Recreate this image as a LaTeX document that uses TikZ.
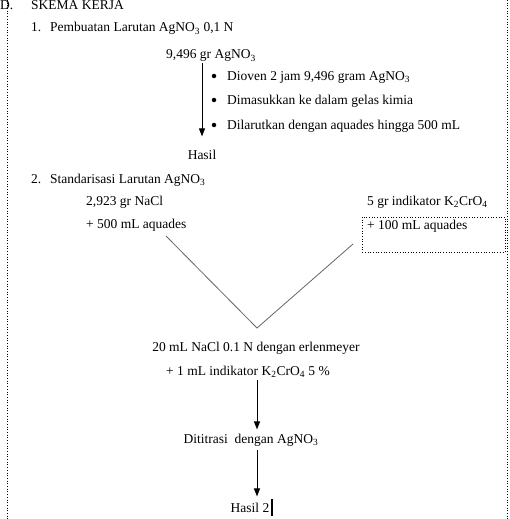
\documentclass[tikz,border=0pt]{standalone}
\usepackage{fontspec}
\setmainfont{Liberation Serif}
\usetikzlibrary{arrows.meta, positioning}

\begin{document}
\begin{tikzpicture}[
    x=1pt, y=-1pt,
    >={Triangle[width=6pt,length=8pt]},
    txt/.style={anchor=base west, inner sep=0pt,
                font=\fontsize{13.5}{16}\selectfont},
    dot/.style={circle, fill, inner sep=0pt, minimum size=4.5pt},
    flow/.style={->, line width=0.9pt},
    vline/.style={draw=black!60, line width=0.8pt},
    frame/.style={dotted, line width=0.7pt}
  ]
  \useasboundingbox (0,0) rectangle (510,519);
  \draw[frame] (7,0) -- (7,519);
  \draw[frame] (507,0) -- (507,519);

  % heading
  \node[txt] (hd) at (0,10) {D.};
  \node[txt] (hdtext) at (31,10) {SKEMA KERJA};

  % part 1
  \node[txt] (n1) at (31,32) {1.};
  \node[txt] (t1) at (50,32) {Pembuatan Larutan AgNO\textsubscript{3} 0,1 N};
  \node[txt] (agno) at (166,59) {9,496 gr AgNO\textsubscript{3}};
  \node[dot] (d1) at (214,76) {};
  \node[txt] (b1) at (227,80) {Dioven 2 jam 9,496 gram AgNO\textsubscript{3}};
  \node[dot] (d2) at (214,100) {};
  \node[txt] (b2) at (227,104) {Dimasukkan ke dalam gelas kimia};
  \node[dot] (d3) at (214,125) {};
  \node[txt] (b3) at (227,129) {Dilarutkan dengan aquades hingga 500 mL};
  \node[txt, anchor=base] (hasil1) at (202,159) {Hasil};
  \draw[flow, shorten <=1pt, shorten >=13pt] (agno.south -| hasil1.north) -- (hasil1.north);

  % part 2
  \node[txt] (n2) at (31,183) {2.};
  \node[txt] (t2) at (50,183) {Standarisasi Larutan AgNO\textsubscript{3}};
  \node[txt] (nacl) at (86,205) {2,923 gr NaCl};
  \node[txt] (nacla) at (86,228) {+ 500 mL aquades};
  \node[txt] (kcr) at (367,205) {5 gr indikator K\textsubscript{2}CrO\textsubscript{4}};
  \node[txt] (kcra) at (367,229) {+ 100 mL aquades};
  \draw[frame] (362,217) rectangle (505,252);

  \coordinate (vl) at (166,236);
  \coordinate (vr) at (353,244);
  \coordinate (apex) at (257,328);
  \draw[vline] (vl) -- (apex) -- (vr);

  \node[txt, anchor=base] (mix) at (256,351) {20 mL NaCl 0.1 N dengan erlenmeyer};
  \node[txt, anchor=base] (mixb) at (248,375) {+ 1 mL indikator K\textsubscript{2}CrO\textsubscript{4} 5 \%};
  \node[txt, anchor=base] (titr) at (251,443) {Dititrasi\ \ dengan AgNO\textsubscript{3}};
  \node[txt, anchor=base] (hasil2) at (250,512) {Hasil 2};

  \draw[flow, shorten <=3pt, shorten >=4pt] (mixb.south -| apex) -- (titr.north -| apex);
  \draw[flow, shorten <=4pt, shorten >=6pt] (titr.south -| apex) -- (hasil2.north -| apex);
  \draw[line width=2.5pt] ([xshift=2.5pt]hasil2.base east) ++(0,4) -- ++(0,-17);
\end{tikzpicture}
\end{document}
